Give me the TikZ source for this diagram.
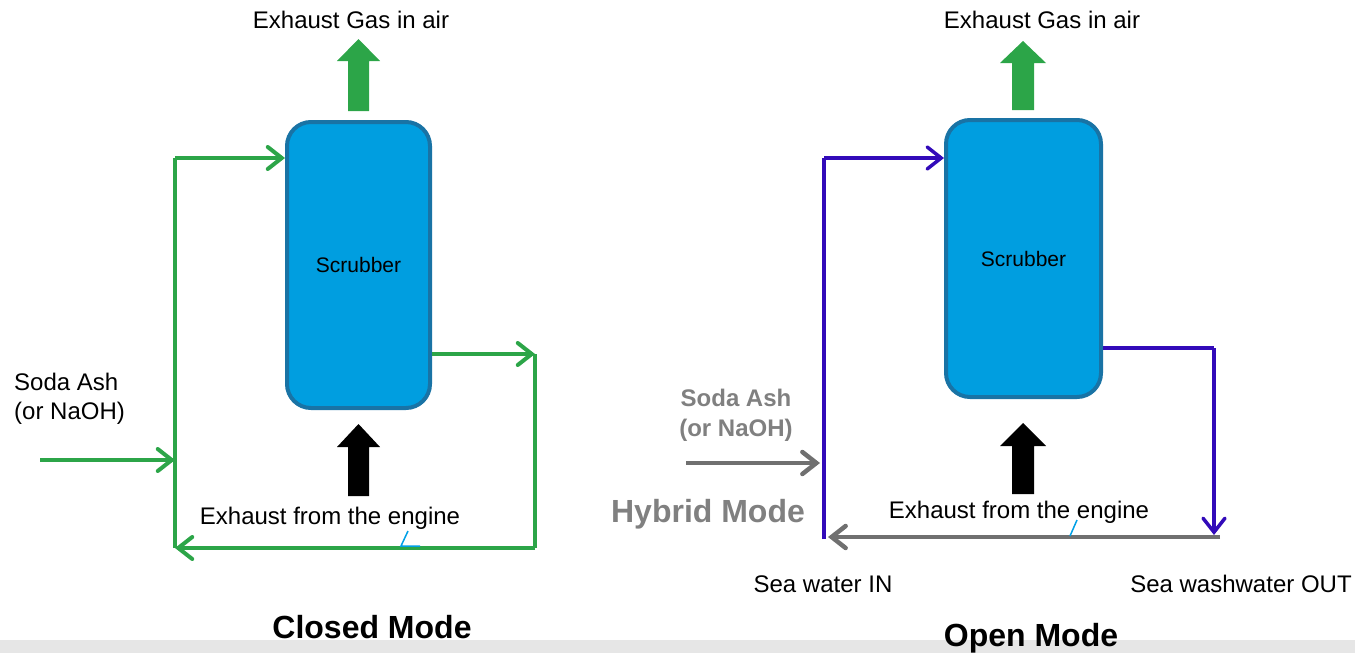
\documentclass[tikz,border=0pt]{standalone}
\usepackage{fontspec}
\setmainfont{Liberation Sans}
\definecolor{scrubfill}{RGB}{0, 158, 224}
\definecolor{scrubedge}{RGB}{25, 115, 165}
\definecolor{flowgreen}{RGB}{44, 165, 72}
\definecolor{seapurple}{RGB}{50, 10, 185}
\definecolor{hybgray}{RGB}{112, 112, 112}
\definecolor{hybtext}{RGB}{128, 128, 128}
\definecolor{tickblue}{RGB}{0, 160, 230}
\definecolor{bandgray}{RGB}{230, 230, 230}
\usetikzlibrary{arrows.meta, positioning, calc}

\begin{document}
\begin{tikzpicture}[
  x=1pt, y=-1pt,
  scrub/.style={draw=scrubedge, fill=scrubfill, line width=4pt, rounded corners=24pt, font=\fontsize{21}{25}\selectfont},
  lbl/.style={inner sep=0pt, font=\fontsize{24}{28}\selectfont},
  soda/.style={inner sep=0pt, align=left, font=\fontsize{24}{29}\selectfont},
  title/.style={inner sep=0pt, font=\fontsize{32}{36}\selectfont\bfseries},
  gline/.style={flowgreen, line width=4pt},
  gflow/.style={gline, -{Straight Barb[length=14pt, width=22pt, line cap=round]}},
  pline/.style={seapurple, line width=3.5pt},
  pflow/.style={pline, -{Straight Barb[length=14pt, width=22pt, line cap=round]}},
  hflow/.style={hybgray, line width=4.5pt, -{Straight Barb[length=14pt, width=22pt, line cap=round]}},
  tick/.style={tickblue, line width=1.5pt}
]
  \useasboundingbox (0,0) rectangle (1355,653);
  \fill[bandgray] (0,640) rectangle (1355,653);

  % Closed mode
  \node[scrub, minimum width=143pt, minimum height=286pt] (scrL) at (358.5,265) {Scrubber};
  \node[lbl] (gasL) at (351,20) {Exhaust Gas in air};
  \fill[flowgreen] (358.5,111) ++(-10.5,0) -- ++(0,-50) -- ++(-11,0) -- ++(21.5,-22) -- ++(21.5,22) -- ++(-11,0) -- ++(0,50) -- cycle;
  \fill[black] (358.5,496) ++(-10.5,0) -- ++(0,-49) -- ++(-11,0) -- ++(21.5,-23) -- ++(21.5,23) -- ++(-11,0) -- ++(0,49) -- cycle;
  \node[lbl] (exhL) at (330,518) {Exhaust from the engine};
  \node[soda, anchor=west] (sodaL) at (14,399) {Soda Ash\\(or NaOH)};
  \node[title] (closed) at (372,627) {Closed Mode};

  \coordinate (lTop) at (175,158);
  \coordinate (lBot) at (175,548);
  \coordinate (rTop) at (535,354);
  \coordinate (rBot) at (535,548);
  \coordinate (sodaIn) at (40,460);

  \draw[gline] (lBot) -- (lTop);
  \draw[gflow] (lTop) -- (lTop -| scrL.west);
  \draw[gflow] (scrL.east |- rTop) -- (rTop);
  \draw[gline] (rTop) -- (rBot);
  \draw[gflow] (rBot) -- (lBot);
  \draw[gflow] (sodaIn) -- (sodaIn -| lBot);
  \draw[tick] (408,531) -- (401,546) -- (420,546);

  % Open mode
  \node[scrub, minimum width=155pt, minimum height=277pt] (scrR) at (1023.5,258.5) {Scrubber};
  \node[lbl] (gasR) at (1042,20) {Exhaust Gas in air};
  \fill[flowgreen] (1023,110) ++(-11,0) -- ++(0,-47) -- ++(-12,0) -- ++(23,-22) -- ++(23,22) -- ++(-12,0) -- ++(0,47) -- cycle;
  \fill[black] (1023,494) ++(-11,0) -- ++(0,-48) -- ++(-12,0) -- ++(23,-23) -- ++(23,23) -- ++(-12,0) -- ++(0,48) -- cycle;
  \node[lbl] (exhR) at (1019,512) {Exhaust from the engine};
  \node[lbl] (seaIn) at (823,584) {Sea water IN};
  \node[lbl] (seaOut) at (1241,584) {Sea washwater OUT};
  \node[title] (open) at (1031,638) {Open Mode};

  \coordinate (pTop) at (824,158);
  \coordinate (pBot) at (824,539);
  \coordinate (pRight) at (1214,348);
  \coordinate (pDown) at (1214,535);

  \draw[pline] (pBot) -- (pTop);
  \draw[pflow] (pTop) -- (pTop -| scrR.west);
  \draw[pline] (scrR.east |- pRight) -- (pRight);
  \draw[pflow] (pRight) -- (pDown);

  % Hybrid mode
  \node[soda, align=center, text=hybtext, font=\fontsize{24}{30}\selectfont\bfseries] (sodaR) at (736,415) {Soda Ash\\(or NaOH)};
  \node[title, text=hybtext] (hybrid) at (708,514) {Hybrid Mode};
  \coordinate (hOut) at (1220,537);
  \coordinate (hIn) at (686,463);
  \draw[hflow, shorten >=4pt] (hOut) -- (hOut -| pBot);
  \draw[hflow, shorten >=4pt] (hIn) -- (hIn -| pBot);
  \draw[tick] (1077,520) -- (1070,536);
\end{tikzpicture}
\end{document}
